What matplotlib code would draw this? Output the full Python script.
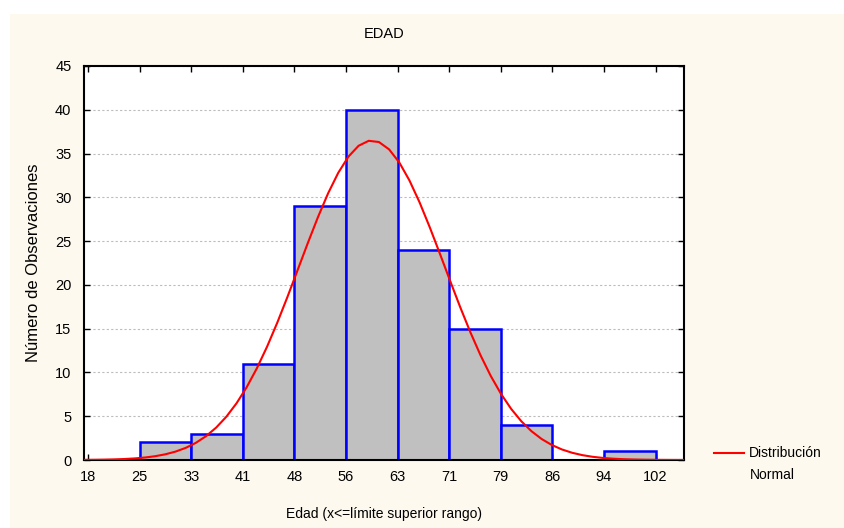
import matplotlib.pyplot as plt
import matplotlib.patches as mpatches
import numpy as np

plt.rcParams['font.family'] = ['Liberation Sans', 'DejaVu Sans']

# bin edges (equal width) and their printed labels
edges = [18.0, 25.64, 33.27, 40.91, 48.55, 56.18, 63.82, 71.45, 79.09, 86.73, 94.36, 102.0]
edge_labels = ["18", "25", "33", "41", "48", "56", "63", "71", "79", "86", "94", "102"]
counts = [0, 2, 3, 11, 29, 40, 24, 15, 4, 0, 1]

# fitted normal curve parameters
mean_edad = 60.0
sd_edad = 10.77


def draw():
    fig = plt.figure(figsize=(8.45, 5.28), dpi=100)
    fig.patch.set_facecolor("white")
    fig.patches.append(mpatches.Rectangle((10 / 845, 0), 835 / 845, 514 / 528,
                                          transform=fig.transFigure,
                                          facecolor="#fdf9ef", edgecolor="none", zorder=-10))

    ax = fig.add_axes([84 / 845, 68 / 528, 600 / 845, 394 / 528])
    ax.set_facecolor("white")

    widths = np.diff(edges)
    ax.bar(edges[:-1], counts, width=widths, align="edge", color="#c0c0c0",
           edgecolor="#0000ff", linewidth=1.8, zorder=2)

    n = sum(counts)
    w = widths.mean()
    xs = np.linspace(17.4, 106.2, 60)
    ys = n * w / (sd_edad * np.sqrt(2 * np.pi)) * np.exp(-0.5 * ((xs - mean_edad) / sd_edad) ** 2)
    ax.plot(xs, ys, color="#ff0000", linewidth=1.5, zorder=3, label="Distribución")

    ax.set_xlim(17.4, 106.2)
    ax.set_ylim(0, 45)
    ax.set_xticks(edges)
    ax.set_xticklabels(edge_labels)
    ax.set_yticks(range(0, 50, 5))
    ax.tick_params(direction="in", length=4, width=1, labelsize=10.5, top=True, right=True)
    ax.tick_params(axis="x", pad=7)
    ax.tick_params(axis="y", pad=9)
    for s in ax.spines.values():
        s.set_linewidth(1.5)
    ax.yaxis.grid(True, linestyle=(0, (2, 2)), color="#bdbdbd", linewidth=0.8)
    ax.set_axisbelow(True)

    ax.set_title("EDAD", fontsize=10.5, pad=20)
    ax.set_xlabel("Edad (x<=límite superior rango)", fontsize=10, labelpad=17)
    ax.set_ylabel("Número de Observaciones", fontsize=12, labelpad=10)

    ax.legend(loc="upper left", bbox_to_anchor=(1.030, 0.066), frameon=False,
              fontsize=10, handlelength=2.15, handletextpad=0.35)
    # second line of the legend label
    ax.text(1.11, -0.038, "Normal", transform=ax.transAxes, fontsize=10,
            ha="left", va="center", clip_on=False)

    fig.savefig("out.png", dpi=100, facecolor=fig.get_facecolor())


if __name__ == "__main__":
    draw()
